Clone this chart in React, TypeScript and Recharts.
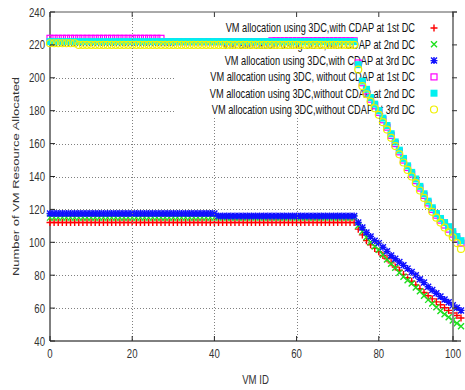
import { ReferenceArea, Scatter, ScatterChart, XAxis, YAxis } from 'recharts'

// VM IDs on the x axis
const vmIds = [
  0, 1, 2, 3, 4, 5, 6, 7, 8, 9,
  10, 11, 12, 13, 14, 15, 16, 17, 18, 19,
  20, 21, 22, 23, 24, 25, 26, 27, 28, 29,
  30, 31, 32, 33, 34, 35, 36, 37, 38, 39,
  40, 41, 42, 43, 44, 45, 46, 47, 48, 49,
  50, 51, 52, 53, 54, 55, 56, 57, 58, 59,
  60, 61, 62, 63, 64, 65, 66, 67, 68, 69,
  70, 71, 72, 73, 74, 75, 76, 77, 78, 79,
  80, 81, 82, 83, 84, 85, 86, 87, 88, 89,
  90, 91, 92, 93, 94, 95, 96, 97, 98, 99,
  100,
]

const withCdap1st = [
  112, 112, 112, 112, 112, 112, 112, 112, 112, 112,
  112, 112, 112, 112, 112, 112, 112, 112, 112, 112,
  112, 112, 112, 112, 112, 112, 112, 112, 112, 112,
  112, 112, 112, 112, 112, 112, 112, 112, 112, 112,
  112, 112, 112, 112, 112, 112, 112, 112, 112, 112,
  112, 112, 112, 112, 112, 112, 112, 112, 112, 112,
  112, 112, 112, 112, 112, 112, 112, 112, 112, 112,
  112, 112, 112, 112, 112, 108, 104.5, 101, 98.5, 96.3,
  94.3, 92, 90, 87.5, 85, 83, 80.5, 78.5, 76.3, 74,
  71.8, 69.5, 67.5, 65.6, 63.8, 62, 60.2, 58.6, 57, 55.5,
  54,
]

const withCdap2nd = [
  115, 115, 115, 115, 115, 115, 115, 115, 115, 115,
  115, 115, 115, 115, 115, 115, 115, 115, 115, 115,
  115, 115, 115, 115, 115, 115, 115, 115, 115, 115,
  115, 115, 115, 115, 115, 115, 115, 115, 115, 115,
  115, 115, 115, 115, 115, 115, 115, 115, 115, 115,
  115, 115, 115, 115, 115, 115, 115, 115, 115, 115,
  115, 115, 115, 115, 115, 115, 115, 115, 115, 115,
  115, 115, 115, 115, 115, 110, 106.5, 103, 100, 97.5,
  95.5, 92.5, 89.5, 87, 84.5, 81.5, 79, 77, 75, 72.5,
  70.2, 67.5, 65, 62.8, 60.5, 58.3, 56.3, 54.5, 52.5, 50.8,
  49,
]

const withCdap3rd = [
  117.5, 117.5, 117.5, 117.5, 117.5, 117.5, 117.5, 117.5, 117.5, 117.5,
  117.5, 117.5, 117.5, 117.5, 117.5, 117.5, 117.5, 117.5, 117.5, 117.5,
  117.5, 117.5, 117.5, 117.5, 117.5, 117.5, 117.5, 117.5, 117.5, 117.5,
  117.5, 117.5, 117.5, 117.5, 117.5, 117.5, 117.5, 117.5, 117.5, 117.5,
  117.5, 116, 116, 116, 116, 116, 116, 116, 116, 116,
  116, 116, 116, 116, 116, 116, 116, 116, 116, 116,
  116, 116, 116, 116, 116, 116, 116, 116, 116, 116,
  116, 116, 116, 116, 116, 112, 109, 106, 103.5, 101,
  99.5, 97, 94.5, 92, 90, 88, 86, 84, 82, 80,
  77.5, 75.5, 73, 71, 69, 67, 65.2, 63.5, 61.8, 60.2,
  58.6,
]

const withoutCdap1st = [
  224, 224, 224, 224, 224, 224, 224, 224, 224, 224,
  224, 224, 224, 224, 224, 224, 224, 224, 224, 224,
  224, 224, 224, 224, 224, 224, 224, 224, 222, 222,
  222, 222, 222, 222, 222, 222, 222, 222, 222, 222,
  222, 222, 222, 222, 222, 222, 222, 222, 222, 222,
  222, 222, 222, 222, 222.5, 222.5, 222.5, 222.5, 222.5, 222.5,
  222.5, 222.5, 222.5, 222.5, 222.5, 222.5, 222.5, 222.5, 222.5, 222.5,
  222.5, 222.5, 222.5, 222.5, 222.5, 209, 197, 192, 187, 183,
  179, 174.5, 170, 165, 160, 155, 150, 145.5, 141.5, 137.5,
  133, 128.5, 124, 120, 116.5, 113.5, 110.5, 108, 105, 102,
  99.5,
]

const withoutCdap2nd = [
  222, 222, 222, 222, 222, 222, 222, 222, 222, 222,
  222, 222, 222, 222, 222, 222, 222, 222, 222, 222,
  222, 222, 222, 222, 222, 222, 222, 222, 222, 222,
  222, 222, 222, 222, 222, 222, 222, 222, 222, 222,
  222, 222, 222, 222, 222, 222, 222, 222, 222, 222,
  222, 222, 222, 222, 222, 222, 222, 222, 222, 222,
  222, 222, 222, 222, 222, 222, 222, 222, 222, 222,
  222, 222, 222, 222, 222, 208, 198, 193, 188, 184,
  180, 175.5, 171, 166, 161, 156, 151, 146.5, 142.5, 138.5,
  134, 129.5, 125, 121, 117.5, 114.5, 112, 109.5, 106.5, 103.5,
  101,
]

const withoutCdap3rd = [
  221, 221, 221, 221, 221, 221, 221, 220, 220, 220,
  220, 220, 220, 220, 220, 220, 220, 220, 220, 220,
  220, 220, 220, 220, 220, 220, 220, 220, 220, 220,
  220, 220, 220, 220, 220, 220, 220, 220, 220, 220,
  220, 220, 220, 220, 220, 220, 220, 220, 220, 220,
  220, 220, 220, 220, 220, 220, 220, 220, 220, 220,
  220, 220, 220, 220, 220, 220, 220, 220, 220, 220,
  220, 220, 220, 220, 220, 205, 195, 190, 185.5, 181.5,
  177.5, 173, 168.5, 163.5, 158.5, 153.5, 148.5, 144, 140, 136,
  131.5, 127, 122.5, 118.5, 115, 112, 109, 106, 103, 99.5,
  96,
]

const xTicks = [0, 20, 40, 60, 80, 100]
const yTicks = [40, 60, 80, 100, 120, 140, 160, 180, 200, 220, 240]

const legendLabels = [
  'VM allocation using 3DC,with CDAP at 1st DC',
  'VM allocation using 3DC,with CDAP at 2nd DC',
  'VM allocation using 3DC,with CDAP at 3rd DC',
  'VM allocation using 3DC, without CDAP at 1st DC',
  'VM allocation using 3DC,without CDAP at 2nd DC',
  'VM allocation using 3DC,without CDAP at 3rd DC',
]

type Kind = 'plus' | 'cross' | 'star' | 'square' | 'box' | 'circle'

const series: { values: number[]; kind: Kind; color: string }[] = [
  { values: withCdap1st, kind: 'plus', color: '#ff0000' },
  { values: withCdap2nd, kind: 'cross', color: '#1ee01e' },
  { values: withCdap3rd, kind: 'star', color: '#1010ff' },
  { values: withoutCdap1st, kind: 'square', color: '#ff00ff' },
  { values: withoutCdap2nd, kind: 'box', color: '#00f0f0' },
  { values: withoutCdap3rd, kind: 'circle', color: '#f0f000' },
]

const W = 465
const H = 390
// recharts keeps ~4px extra on the right, so the plot ends near 457
const MARGIN = { top: 12, right: 4, bottom: 5, left: 0 }
const PLOT_TOP = MARGIN.top
// pixel extent of the opaque key box; grid lines stop at it
const KEY = { left: 176, top: 16, right: 446, bottom: 118 }
const SANS = '"Liberation Sans", Arial, sans-serif'
// the source picture is squeezed sideways, so text is narrowed
const SQUEEZE = 0.74

// snap to the pixel centre so 1px dotted lines stay sharp
const px = (v: number) => Math.round(v) + 0.5

const toPoints = (values: number[]) => vmIds.map((id, j) => ({ x: id, y: values[j] }))

function Glyph({ kind, color, cx, cy }: { kind: Kind; color: string; cx: number; cy: number }) {
  const s = 1.4
  if (kind === 'plus') {
    return <path d={`M${cx - 3.5},${cy}H${cx + 3.5}M${cx},${cy - 3.5}V${cy + 3.5}`} stroke={color} strokeWidth={s} fill="none" />
  }
  if (kind === 'cross') {
    return <path d={`M${cx - 3},${cy - 3}L${cx + 3},${cy + 3}M${cx - 3},${cy + 3}L${cx + 3},${cy - 3}`} stroke={color} strokeWidth={s} fill="none" />
  }
  if (kind === 'star') {
    return (
      <path
        d={`M${cx - 3.5},${cy}H${cx + 3.5}M${cx},${cy - 3.5}V${cy + 3.5}M${cx - 3},${cy - 3}L${cx + 3},${cy + 3}M${cx - 3},${cy + 3}L${cx + 3},${cy - 3}`}
        stroke={color}
        strokeWidth={s}
        fill="none"
      />
    )
  }
  if (kind === 'square') {
    return <rect x={cx - 3} y={cy - 3} width={6} height={6} stroke={color} strokeWidth={1.2} fill="none" />
  }
  if (kind === 'box') {
    return <rect x={cx - 3.5} y={cy - 3.5} width={7} height={7} fill={color} />
  }
  return <circle cx={cx} cy={cy} r={3.5} stroke={color} strokeWidth={1.2} fill="none" />
}

const shapeFor = (kind: Kind, color: string) => (p: any) =>
  <Glyph kind={kind} color={color} cx={p.cx} cy={p.cy} />

// bottom tick: label, inward marks top and bottom, vertical grid line, right border
function XTick(props: any) {
  const { x, y, payload } = props
  const bottom = y - 6
  const v = payload.value
  const gx = px(x)
  const underKey = x > KEY.left && x < KEY.right
  return (
    <g>
      {v > 0 && v < 100 && (
        <path
          d={`M${gx},${underKey ? KEY.bottom : PLOT_TOP}V${bottom}`}
          stroke="#808080" strokeWidth={1} strokeDasharray="1 2" fill="none"
        />
      )}
      {v === 100 && <line x1={x} x2={x} y1={PLOT_TOP} y2={bottom} stroke="#8a8a8a" strokeWidth={2} />}
      <line x1={x} x2={x} y1={bottom} y2={bottom - 5} stroke="#222" />
      <line x1={x} x2={x} y1={PLOT_TOP} y2={PLOT_TOP + 5} stroke="#333" />
      <g transform={`translate(${x},${y + 11}) scale(${SQUEEZE},1)`}>
        <text textAnchor="middle" fontSize={13} fontFamily={SANS} fill="#333">{v}</text>
      </g>
    </g>
  )
}

// left tick: label, inward marks left and right, horizontal grid line, top border
function YTick(props: any) {
  const { x, y, payload } = props
  const left = x + 5
  const right = W - 8
  const v = payload.value
  const gy = px(y)
  const underKey = y > KEY.top && y < KEY.bottom
  return (
    <g>
      {v > 40 && v < 240 && (
        <path
          d={`M${left},${gy}H${underKey ? KEY.left : right}`}
          stroke="#808080" strokeWidth={1} strokeDasharray="1 2" fill="none"
        />
      )}
      {v === 240 && <line x1={left} x2={right} y1={y} y2={y} stroke="#555" />}
      <line x1={left} x2={left + 5} y1={y} y2={y} stroke="#222" />
      <line x1={right - 5} x2={right} y1={y} y2={y} stroke="#333" />
      <g transform={`translate(${x},${y + 4.5}) scale(${SQUEEZE},1)`}>
        <text textAnchor="end" fontSize={13} fontFamily={SANS} fill="#333">{v}</text>
      </g>
    </g>
  )
}

function XLabel(props: any) {
  const vb = props.viewBox
  return (
    <g transform={`translate(${vb.x + vb.width / 2},${vb.y + vb.height - 1}) scale(${SQUEEZE},1)`}>
      <text textAnchor="middle" fontSize={13} fontFamily={SANS} fill="#333">VM ID</text>
    </g>
  )
}

function YLabel(props: any) {
  const vb = props.viewBox
  return (
    <g transform={`translate(19,${vb.y + vb.height / 2}) scale(${SQUEEZE},1) rotate(-90)`}>
      <text textAnchor="middle" fontSize={13} fontFamily={SANS} fill="#333">Number of VM Resource Allocated</text>
    </g>
  )
}

// opaque key box; the points are drawn over it afterwards
function KeyBox() {
  return (
    <g>
      <rect x={KEY.left} y={KEY.top} width={KEY.right - KEY.left} height={KEY.bottom - KEY.top} fill="#fff" />
      {legendLabels.map((label, i) => {
        const cy = KEY.top + 12 + i * 16.3
        const s = series[i]
        return (
          <g key={label}>
            <g transform={`translate(${KEY.left + 239},${cy + 4.3}) scale(${SQUEEZE},1)`}>
              <text textAnchor="end" fontSize={12.5} fontFamily={SANS} fill="#111">{label}</text>
            </g>
            <Glyph kind={s.kind} color={s.color} cx={KEY.left + 258} cy={cy} />
          </g>
        )
      })}
    </g>
  )
}

export default function App() {
  return (
    <div style={{ position: 'absolute', left: 0, top: 0, width: W, height: H, background: '#fff' }}>
      <ScatterChart width={W} height={H} margin={MARGIN}>
        <XAxis
          type="number" dataKey="x" domain={[0, 100]} ticks={xTicks}
          height={44} tickSize={0} tickMargin={6} tickLine={false}
          axisLine={{ stroke: '#000' }} tick={<XTick />}
          label={<XLabel />}
        />
        <YAxis
          type="number" dataKey="y" domain={[40, 240]} ticks={yTicks}
          width={50} tickSize={0} tickMargin={5} tickLine={false}
          axisLine={{ stroke: '#000' }} tick={<YTick />}
          label={<YLabel />}
        />
        <ReferenceArea x1={31} x2={97} y1={176} y2={237} shape={<KeyBox />} ifOverflow="visible" />
        {series.map((s, i) => (
          <Scatter
            key={i}
            data={toPoints(s.values)}
            shape={shapeFor(s.kind, s.color)}
            isAnimationActive={false}
          />
        ))}
      </ScatterChart>
    </div>
  )
}
